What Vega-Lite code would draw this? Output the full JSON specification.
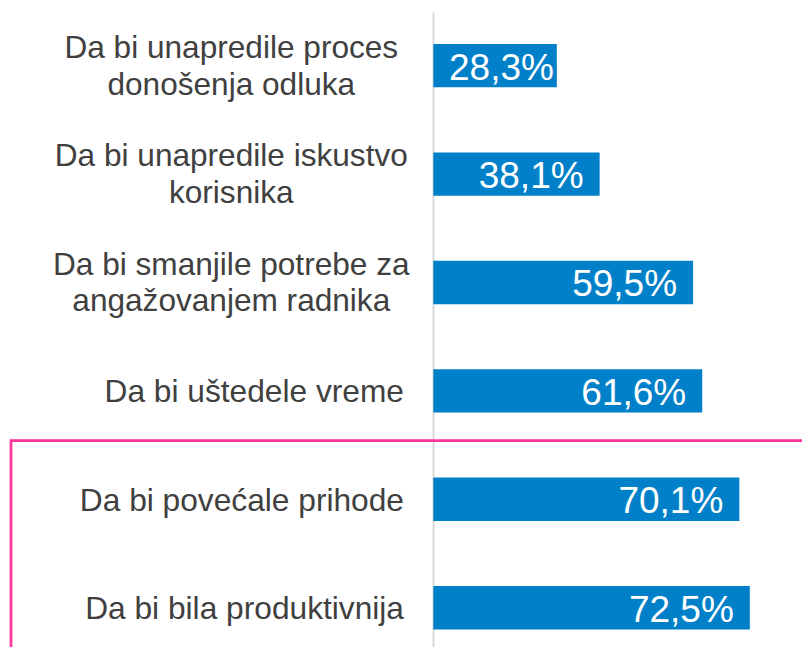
{
  "$schema": "https://vega.github.io/schema/vega-lite/v6.json",
  "width": 802,
  "height": 647,
  "autosize": {"type": "fit", "contains": "padding"},
  "padding": {"top": 12, "left": 0, "right": 0, "bottom": 0},
  "background": "white",
  "config": {
    "view": {"stroke": null},
    "font": "Liberation Sans"
  },
  "data": {
    "values": [
      {"razlog": "Da bi unapredile proces\ndonošenja odluka", "udeo": 28.3},
      {"razlog": "Da bi unapredile iskustvo\nkorisnika", "udeo": 38.1},
      {"razlog": "Da bi smanjile potrebe za\nangažovanjem radnika", "udeo": 59.5},
      {"razlog": "Da bi uštedele vreme", "udeo": 61.6},
      {"razlog": "Da bi povećale prihode", "udeo": 70.1},
      {"razlog": "Da bi bila produktivnija", "udeo": 72.5}
    ]
  },
  "layer": [
    {
      "mark": {"type": "bar", "color": "#0080C8"},
      "encoding": {
        "x": {"field": "udeo", "type": "quantitative",
              "axis": {"values": [0], "grid": true, "gridColor": "#d9d9d9", "gridWidth": 2, "labels": false, "ticks": false, "domain": false, "title": null},
              "scale": {"domain": [-99.24, 84.45], "nice": false, "zero": false}},
        "y": {"field": "razlog", "type": "nominal", "sort": null, "axis": null,
              "scale": {"paddingInner": 0.6, "paddingOuter": 0.2288, "align": 0.645}}
      }
    },
    {
      "transform": [
        {"filter": "datum.udeo > 30"},
        {"calculate": "replace(format(datum.udeo, '.1f'), '.', ',') + '%'", "as": "oznaka"}
      ],
      "mark": {"type": "text", "align": "right", "baseline": "middle", "dx": -16, "dy": 3, "fontSize": 37, "color": "white"},
      "encoding": {
        "x": {"field": "udeo", "type": "quantitative"},
        "y": {"field": "razlog", "type": "nominal", "sort": null},
        "text": {"field": "oznaka", "type": "nominal"}
      }
    },
    {
      "transform": [
        {"filter": "datum.udeo <= 30"},
        {"calculate": "replace(format(datum.udeo, '.1f'), '.', ',') + '%'", "as": "oznaka"}
      ],
      "mark": {"type": "text", "align": "left", "baseline": "middle", "dx": 15.7, "dy": 3, "fontSize": 37, "color": "white"},
      "encoding": {
        "x": {"datum": 0, "type": "quantitative"},
        "y": {"field": "razlog", "type": "nominal", "sort": null},
        "text": {"field": "oznaka", "type": "nominal"}
      }
    },
    {
      "transform": [{"filter": "indexof(datum.razlog, '\\n') < 0"}],
      "mark": {"type": "text", "align": "right", "baseline": "middle", "dx": -29.3, "dy": 1.5, "fontSize": 31.7, "color": "#404040"},
      "encoding": {
        "x": {"datum": 0, "type": "quantitative"},
        "y": {"field": "razlog", "type": "nominal", "sort": null},
        "text": {"field": "razlog", "type": "nominal"}
      }
    },
    {
      "transform": [{"filter": "indexof(datum.razlog, '\\n') >= 0"}],
      "mark": {"type": "text", "align": "center", "baseline": "middle", "dx": -202, "dy": -16.8, "fontSize": 31.6, "lineHeight": 36.7, "lineBreak": "\n", "color": "#404040"},
      "encoding": {
        "x": {"datum": 0, "type": "quantitative"},
        "y": {"field": "razlog", "type": "nominal", "sort": null},
        "text": {"field": "razlog", "type": "nominal"}
      }
    },
    {
      "transform": [{"filter": "datum.razlog == 'Da bi povećale prihode'"}],
      "mark": {"type": "rect", "filled": false, "stroke": "#FF3399", "strokeWidth": 2.7, "clip": true},
      "encoding": {
        "x": {"datum": -96.72, "type": "quantitative"},
        "x2": {"datum": 150},
        "y": {"field": "razlog", "type": "nominal", "sort": null, "bandPosition": -0.855},
        "y2": {"field": "razlog", "bandPosition": 5}
      }
    }
  ]
}
